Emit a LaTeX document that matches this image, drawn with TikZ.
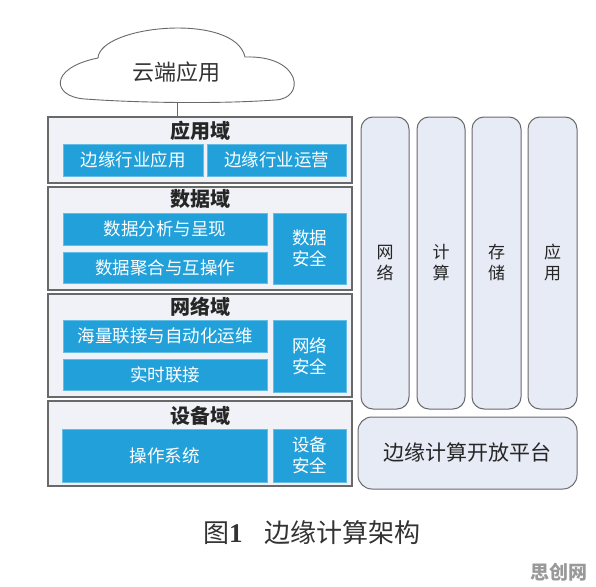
\documentclass[tikz,border=0pt]{standalone}
\usepackage{fontspec}
\newfontfamily\cjk{Noto Sans CJK SC}
\newfontfamily\capserif{Liberation Serif}
\definecolor{bluefill}{RGB}{34,160,218}
\definecolor{domfill}{RGB}{240,242,247}
\definecolor{colfill}{RGB}{231,235,245}
\definecolor{edge}{RGB}{105,105,105}
\tikzset{
  x=1pt,y=-1pt,
  dombox/.style={draw=edge,line width=1.2pt,fill=domfill,inner sep=0pt},
  domtitle/.style={font=\cjk\fontsize{20}{22}\selectfont\bfseries,text=black!85,inner sep=0pt},
  bluebox/.style={fill=bluefill,draw=bluefill!70!white,line width=0.6pt,text=white,inner sep=0pt,
    font=\cjk\fontsize{17.5}{21}\selectfont,align=center},
  colbox/.style={draw=edge,line width=1pt,fill=colfill,rounded corners=12pt,inner sep=0pt,
    font=\cjk\fontsize{17}{21}\selectfont,align=center,text=black!85},
}
\begin{document}
\begin{tikzpicture}
\useasboundingbox[fill=white] (0,0) rectangle (596,586);
% cloud
\draw[edge,line width=0.9pt,fill=white] (85,99) .. controls (52,97) and (48,68) .. (98,58)
  .. controls (100,25) and (235,12) .. (245,57)
  .. controls (302,55) and (306,99) .. (275,100)
  .. controls (220,104) and (140,103) .. (85,99) -- cycle;
\node[font=\cjk\fontsize{22}{24}\selectfont,text=black!80] (cl) at (176,72) {云端应用};
\coordinate (cb) at (177,101.5);
% domains
\node[dombox,minimum width=304pt,minimum height=66pt] (dA) at (200,150) {};
\node[dombox,minimum width=304pt,minimum height=103pt] (dD) at (200,238.5) {};
\node[dombox,minimum width=304pt,minimum height=103pt] (dN) at (200,345.5) {};
\node[dombox,minimum width=304pt,minimum height=85pt] (dE) at (200,443.5) {};
\draw[edge,line width=0.9pt] (cb) -- (cb |- dA.north);
\node[domtitle] (tA) at (200,131) {应用域};
\node[domtitle] (tD) at (200,199) {数据域};
\node[domtitle] (tN) at (200,307) {网络域};
\node[domtitle] (tE) at (200,416) {设备域};
% blue boxes
\node[bluebox,minimum width=140pt,minimum height=32pt] (a1) at (133,160) {边缘行业应用};
\node[bluebox,minimum width=139pt,minimum height=32pt] (a2) at (276.5,160) {边缘行业运营};
\node[bluebox,minimum width=204pt,minimum height=32pt] (d1) at (165,229) {数据分析与呈现};
\node[bluebox,minimum width=204pt,minimum height=31pt] (d2) at (165,267.5) {数据聚合与互操作};
\node[bluebox,minimum width=73pt,minimum height=71pt] (d3) at (309.5,248.5) {数据\\安全};
\node[bluebox,minimum width=204pt,minimum height=32pt] (n1) at (165,336) {海量联接与自动化运维};
\node[bluebox,minimum width=204pt,minimum height=31pt] (n2) at (165,374.5) {实时联接};
\node[bluebox,minimum width=73pt,minimum height=72pt] (n3) at (309.5,356) {网络\\安全};
\node[bluebox,minimum width=205pt,minimum height=53pt] (e1) at (164.5,455.5) {操作系统};
\node[bluebox,minimum width=73pt,minimum height=53pt] (e2) at (309.5,455.5) {设备\\安全};
% columns
\node[colbox,minimum width=48pt,minimum height=292pt] (c1) at (385,263) {网\\络};
\node[colbox,minimum width=48pt,minimum height=292pt] (c2) at (441,263) {计\\算};
\node[colbox,minimum width=49pt,minimum height=292pt] (c3) at (496.5,263) {存\\储};
\node[colbox,minimum width=49pt,minimum height=292pt] (c4) at (552.5,263) {应\\用};
\node[colbox,rounded corners=14pt,minimum width=219pt,minimum height=72pt,
  font=\cjk\fontsize{21}{24}\selectfont] (pf) at (467.5,453) {边缘计算开放平台};
% caption
\node[anchor=west,inner sep=0pt,text=black!80] (cap) at (203,533)
  {{\cjk\fontsize{26}{28}\selectfont 图}{\capserif\bfseries\fontsize{27}{28}\selectfont 1}\hspace{22pt}{\cjk\fontsize{26}{28}\selectfont 边缘计算架构}};
\node[font=\cjk\fontsize{19}{20}\selectfont\bfseries,text=black!40,inner sep=0pt] (wm) at (559,572) {思创网};
\end{tikzpicture}
\end{document}
